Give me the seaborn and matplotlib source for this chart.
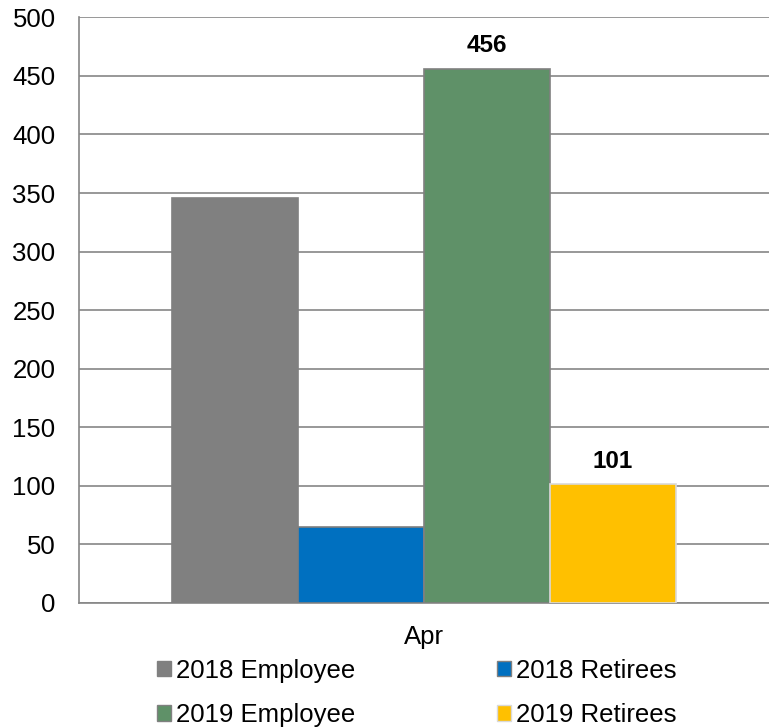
import matplotlib
matplotlib.use("Agg")
import matplotlib.pyplot as plt
import seaborn as sns
import pandas as pd
from matplotlib.patches import Patch

months = ["Apr", "Apr", "Apr", "Apr"]
series = ["2018 Employee", "2018 Retirees", "2019 Employee", "2019 Retirees"]
counts = [346, 65, 456, 101]
colors = ["#808080", "#0070C0", "#5F9168", "#FFC000"]
edge_colors = ["#808080", "#7F7F7F", "#808080", "#D9D9D9"]
labelled = {"2019 Employee": 456, "2019 Retirees": 101}

df = pd.DataFrame({"month": months, "series": series, "count": counts})

sns.set_style("white")
plt.rcParams["font.family"] = ["Liberation Sans", "DejaVu Sans"]
plt.rcParams["text.color"] = "black"
plt.rcParams["xtick.color"] = "black"
plt.rcParams["ytick.color"] = "black"

FS = 18.5

fig = plt.figure(figsize=(7.69, 7.27), dpi=100)
ax = fig.add_axes([0.103, 0.171, 0.897, 0.805])

sns.barplot(data=df, x="month", y="count", hue="series", hue_order=series,
            palette=colors, width=0.73, dodge=True, legend=False,
            saturation=1, ax=ax, zorder=3)

for patch, ec in zip(ax.patches, edge_colors):
    patch.set_edgecolor(ec)
    patch.set_linewidth(1.2)

for patch, name, val in zip(ax.patches, series, counts):
    if name in labelled:
        ax.text(patch.get_x() + patch.get_width() / 2, val + 10, f"{val}",
                ha="center", va="bottom", fontsize=FS - 1, fontweight="bold")

ax.set_ylim(0, 500)
ax.set_xlim(-0.5, 0.5)
ax.set_yticks(range(0, 501, 50))
ax.yaxis.grid(True, color="#868686", linewidth=1.2, zorder=0)
ax.set_axisbelow(True)
ax.set_xlabel("")
ax.set_ylabel("")
ax.tick_params(axis="y", labelsize=FS, length=5, color="#868686", width=1.2, pad=12,
               labelcolor="black")
ax.tick_params(axis="x", labelsize=FS, length=0, pad=16, labelcolor="black")
for s in ["top", "right"]:
    ax.spines[s].set_visible(False)
for s in ["left", "bottom"]:
    ax.spines[s].set_color("#868686")
    ax.spines[s].set_linewidth(1.2)

# row-major legend order: 2018 pair on the first row, 2019 pair on the second
order = [0, 2, 1, 3]
handles = [Patch(facecolor=colors[i], edgecolor=edge_colors[i], label=series[i]) for i in order]
fig.legend(handles=handles, loc="lower left", bbox_to_anchor=(0.181, -0.025), ncol=2,
           frameon=False, fontsize=FS, handlelength=0.55, handleheight=0.55,
           handletextpad=0.2, columnspacing=5.48, labelspacing=0.8, borderpad=0.2)

fig.savefig("out.png", dpi=100)
